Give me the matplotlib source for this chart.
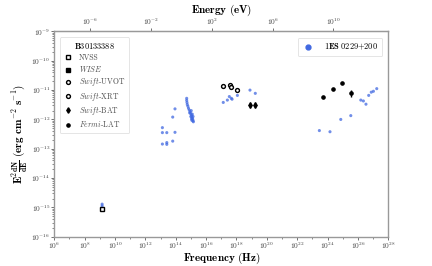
import numpy as np
import matplotlib
matplotlib.use("Agg")
import matplotlib.pyplot as plt
from matplotlib.lines import Line2D
from matplotlib.ticker import LogLocator, NullFormatter

plt.rcParams['font.family'] = 'serif'
plt.rcParams['font.serif'] = ['cmr10']
plt.rcParams['mathtext.fontset'] = 'cm'
plt.rcParams['axes.formatter.use_mathtext'] = True

# ---- data (log10 frequency [Hz], log10 flux [erg cm^-2 s^-1]) ----
nvss_lognu = [9.15]
nvss_logf = [-15.07]

uvot_lognu = [17.13, 17.58, 17.66]
uvot_logf = [-10.85, -10.83, -10.88]
xrt_lognu = [18.06]
xrt_logf = [-11.00]

bat_lognu = [18.89, 19.24]
bat_logf = [-11.51, -11.51]
bat_err = [0.10, 0.10]

lat_lognu = [23.72, 24.34, 24.95, 25.57]
lat_logf = [-11.24, -10.96, -10.75, -11.11]
lat_err = [0.0, 0.0, 0.0, 0.12]

ref_lognu = [9.15, 9.15,
             13.12, 13.12, 13.41, 13.95, 13.12, 13.41, 13.41, 13.80, 13.95, 13.80,
             14.72, 14.72, 14.74, 14.76, 14.80, 14.84, 14.89, 14.94, 14.99, 15.04,
             15.06, 15.09, 15.12, 15.14, 15.04, 14.99, 15.09, 15.14, 15.16, 15.06,
             15.02, 14.92,
             17.13, 17.40, 17.53, 17.66, 17.71, 18.06, 18.89, 19.24,
             23.46, 24.16, 24.87, 25.53, 26.19, 26.36, 26.53, 26.71, 26.88,
             27.02, 27.24]
ref_logf = [-14.89, -14.95,
            -12.28, -12.45, -12.45, -12.44, -12.84, -12.79, -12.85, -12.74, -11.64, -11.92,
            -11.28, -11.35, -11.42, -11.49, -11.55, -11.62, -11.68, -11.74, -11.80, -11.86,
            -11.91, -11.96, -12.00, -12.05, -11.98, -11.90, -11.82, -11.90, -12.08, -12.03,
            -11.70, -11.78,
            -11.42, -11.34, -11.22, -11.28, -11.31, -11.18, -11.00, -11.11,
            -12.38, -12.42, -12.00, -11.87, -11.34, -11.37, -11.48, -11.18, -11.07,
            -11.04, -10.95]

xticks_exp = list(range(6, 29, 2))
top_ticks_exp = [-6, -2, 2, 6, 10]

H_EV = 4.135667696e-15

def p(v):
    return 10.0 ** np.asarray(v, dtype=float)

fig = plt.figure(figsize=(4.32, 2.66), dpi=100)
ax = fig.add_axes([0.1257, 0.1102, 0.7731, 0.7714])

ax.scatter(p(ref_lognu), p(ref_logf), s=5, color='royalblue', alpha=0.75,
           edgecolors='none', zorder=2)

ax.plot(p(nvss_lognu), p(nvss_logf), ls='none', marker='s', ms=2.8, mfc='white',
        mec='black', mew=1.0, zorder=3)
ax.plot(p(uvot_lognu), p(uvot_logf), ls='none', marker='o', ms=2.8, mfc='white',
        mec='black', mew=1.0, zorder=3)
ax.plot(p(xrt_lognu), p(xrt_logf), ls='none', marker='o', ms=2.8, mfc='white',
        mec='black', mew=1.0, zorder=3)

bf = np.asarray(bat_logf)
be = np.asarray(bat_err)
ax.errorbar(p(bat_lognu), p(bf), yerr=[p(bf) - p(bf - be), p(bf + be) - p(bf)],
            fmt='d', ms=2.8, color='black', elinewidth=1.0, capsize=0, zorder=3)
lf = np.asarray(lat_logf)
le = np.asarray(lat_err)
ax.errorbar(p(lat_lognu), p(lf), yerr=[p(lf) - p(lf - le), p(lf + le) - p(lf)],
            fmt='o', ms=2.3, color='black', elinewidth=1.0, capsize=0, zorder=3)

ax.set_xscale('log')
ax.set_yscale('log')
ax.set_xlim(1e6, 1e28)
ax.set_ylim(1e-16, 1e-9)
ax.set_xticks(p(xticks_exp))
ax.xaxis.set_minor_locator(LogLocator(base=10, subs=(1.0,), numticks=50))
ax.xaxis.set_minor_formatter(NullFormatter())
ax.yaxis.set_minor_locator(LogLocator(base=10, subs=np.arange(2, 10), numticks=50))
ax.yaxis.set_minor_formatter(NullFormatter())
ax.tick_params(axis='both', which='major', labelsize=5.3, length=2.2, width=0.6,
               colors='0.35', labelcolor='0.25', pad=0.8)
ax.tick_params(axis='both', which='minor', length=1.3, width=0.5, colors='0.35')
for s in ax.spines.values():
    s.set_color('0.6')
    s.set_linewidth(1.0)

ax.set_xlabel(r'$\mathbf{Frequency\ (Hz)}$', fontsize=8, labelpad=-0.5)
ax.set_ylabel(r'$\mathbf{E^{2}\frac{dN}{dE}\ (erg\ cm^{-2}\ s^{-1})}$', fontsize=8,
              labelpad=1)

sec = ax.secondary_xaxis('top', functions=(lambda x: x * H_EV, lambda x: x / H_EV))
sec.set_xticks(p(top_ticks_exp))
sec.xaxis.set_minor_locator(LogLocator(base=10, subs=(1.0,), numticks=50))
sec.xaxis.set_minor_formatter(NullFormatter())
sec.tick_params(axis='x', which='major', labelsize=5.3, length=2.2, width=0.6,
                colors='0.35', labelcolor='0.25', pad=1.0)
sec.tick_params(axis='x', which='minor', length=0)
sec.set_xlabel(r'$\mathbf{Energy\ (eV)}$', fontsize=8, labelpad=3)
sec.spines['top'].set_color('0.6')

handles = [
    Line2D([], [], ls='none', marker='s', ms=2.8, mfc='white', mec='black', mew=1.0),
    Line2D([], [], ls='none', marker='s', ms=2.8, color='black'),
    Line2D([], [], ls='none', marker='o', ms=2.8, mfc='white', mec='black', mew=1.0),
    Line2D([], [], ls='none', marker='o', ms=2.8, mfc='white', mec='black', mew=1.0),
    Line2D([], [], ls='none', marker='d', ms=2.8, color='black'),
    Line2D([], [], ls='none', marker='o', ms=2.3, color='black'),
]
labels = ['NVSS', r'$\it{WISE}$', r'$\it{Swift}$-UVOT', r'$\it{Swift}$-XRT',
          r'$\it{Swift}$-BAT', r'$\it{Fermi}$-LAT']
leg1 = ax.legend(handles, labels, loc='upper left', fontsize=5.5, frameon=True,
                 title=r'$\mathbf{B30133388}$', title_fontsize=6, labelspacing=0.3,
                 handletextpad=0.8, borderpad=0.5, handlelength=1.2,
                 bbox_to_anchor=(0.005, 0.99))
leg1.get_frame().set_edgecolor('0.85')
leg1.get_frame().set_linewidth(0.6)
for t in leg1.get_texts():
    t.set_color('0.3')
ax.add_artist(leg1)

h2 = Line2D([], [], ls='none', marker='o', ms=3.5, color='royalblue')
leg2 = ax.legend([h2], [r'$\mathbf{1ES\ 0229{+}200}$'], loc='upper right', fontsize=6,
                 frameon=True, handletextpad=1.2, borderpad=0.5, handlelength=1.5,
                 bbox_to_anchor=(0.995, 0.99))
leg2.get_frame().set_edgecolor('0.85')
leg2.get_frame().set_linewidth(0.6)

fig.savefig('out.png', dpi=100)
